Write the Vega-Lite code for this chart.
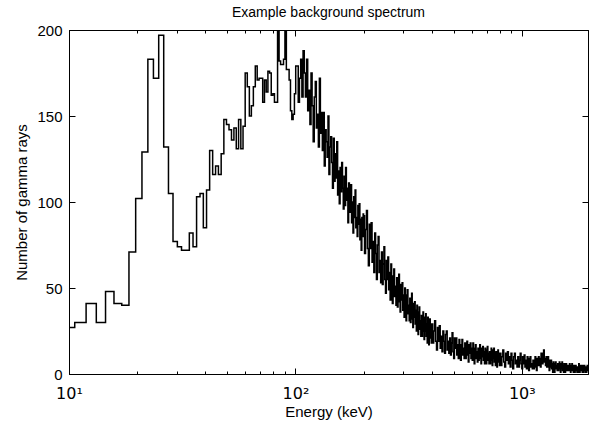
{
"$schema": "https://vega.github.io/schema/vega-lite/v6.json",
"width": 519,
"height": 344,
"autosize": {"type": "none"},
"padding": {"left": 69, "top": 30, "right": 6, "bottom": 52},
"background": "white",
"title": {"text": "Example background spectrum", "font": "Liberation Sans", "fontSize": 14, "fontWeight": "normal", "color": "black", "anchor": "middle", "frame": "group", "baseline": "alphabetic", "offset": -8},
"config": {"view": {"stroke": "black", "strokeWidth": 1}},
"data": {"values": [
{"e":10,"n":27},{"e":10.6,"n":30},{"e":11.9,"n":41},{"e":13.2,"n":30},{"e":14.5,"n":48},{"e":15.8,"n":41},{"e":17.1,"n":40},{"e":18.4,"n":71},{"e":19.7,"n":102},{"e":21.0,"n":129},{"e":22.3,"n":183},{"e":23.6,"n":172},{"e":24.9,"n":197},{"e":26.2,"n":132},{"e":27.5,"n":105},{"e":28.8,"n":77},{"e":30.1,"n":74},{"e":31.4,"n":72},{"e":32.7,"n":72},{"e":34.0,"n":82},{"e":35.3,"n":74},{"e":36.6,"n":103},{"e":37.9,"n":105},{"e":39.2,"n":85},{"e":40.5,"n":107},{"e":41.8,"n":130},{"e":43.1,"n":116},{"e":44.4,"n":121},{"e":45.7,"n":116},{"e":47.0,"n":128},{"e":48.3,"n":148},{"e":49.6,"n":145},{"e":50.9,"n":142},{"e":52.2,"n":136},{"e":53.5,"n":143},{"e":54.8,"n":131},{"e":56.1,"n":148},{"e":57.4,"n":131},{"e":58.7,"n":144},{"e":60.0,"n":175},{"e":61.3,"n":167},{"e":62.6,"n":150},{"e":63.9,"n":156},{"e":65.2,"n":167},{"e":66.5,"n":179},{"e":67.8,"n":171},{"e":69.1,"n":172},{"e":70.4,"n":172},{"e":71.7,"n":158},{"e":73.0,"n":171},{"e":74.3,"n":164},{"e":75.6,"n":176},{"e":76.9,"n":175},{"e":78.2,"n":162},{"e":79.5,"n":163},{"e":80.8,"n":158},{"e":82.1,"n":158},{"e":83.4,"n":210},{"e":84.7,"n":182},{"e":86.0,"n":180},{"e":87.3,"n":180},{"e":88.6,"n":183},{"e":89.9,"n":212},{"e":91.2,"n":177},{"e":92.5,"n":177},{"e":93.8,"n":171},{"e":95.1,"n":153},{"e":96.4,"n":148},{"e":97.7,"n":151},{"e":99.0,"n":163},{"e":100.3,"n":179},
{"e":101.6,"n":179},{"e":102.9,"n":158},{"e":104.2,"n":172},{"e":105.5,"n":183},{"e":106.8,"n":161},{"e":108.1,"n":188},{"e":109.4,"n":175},{"e":110.7,"n":161},{"e":112.0,"n":183},{"e":113.3,"n":153},{"e":114.6,"n":165},{"e":115.9,"n":145},{"e":117.2,"n":175},{"e":118.5,"n":156},{"e":119.8,"n":135},{"e":121.1,"n":161},{"e":122.4,"n":170},{"e":123.7,"n":143},{"e":125.0,"n":151},{"e":126.3,"n":132},{"e":127.6,"n":172},{"e":128.9,"n":140},{"e":130.2,"n":152},{"e":131.5,"n":130},{"e":132.8,"n":152},{"e":134.1,"n":121},{"e":135.4,"n":142},{"e":136.7,"n":135},{"e":138.0,"n":126},{"e":139.3,"n":150},{"e":140.6,"n":116},{"e":141.9,"n":132},{"e":143.2,"n":138},{"e":144.5,"n":123},{"e":145.8,"n":108},{"e":147.1,"n":137},{"e":148.4,"n":112},{"e":149.7,"n":128},{"e":151.0,"n":114},{"e":152.3,"n":135},{"e":153.6,"n":104},{"e":154.9,"n":118},{"e":156.2,"n":99},{"e":157.5,"n":120},{"e":158.8,"n":106},{"e":160.1,"n":123},{"e":161.4,"n":108},{"e":162.7,"n":96},{"e":164.0,"n":115},{"e":165.3,"n":98},{"e":166.6,"n":120},{"e":167.9,"n":101},{"e":169.2,"n":108},{"e":170.5,"n":88},{"e":171.8,"n":111},{"e":173.1,"n":94},{"e":174.4,"n":101},{"e":175.7,"n":110},{"e":177.0,"n":88},{"e":178.3,"n":100},{"e":179.6,"n":82},{"e":180.9,"n":103},{"e":182.2,"n":91},{"e":183.5,"n":107},{"e":184.8,"n":85},{"e":186.1,"n":91},{"e":187.4,"n":80},{"e":188.7,"n":98},{"e":190.0,"n":87},{"e":191.3,"n":99},{"e":192.6,"n":78},{"e":193.9,"n":90},{"e":195.2,"n":72},{"e":196.5,"n":91},{"e":197.8,"n":80},{"e":199.1,"n":93},
{"e":200,"n":92},{"e":202,"n":70},{"e":204,"n":84},{"e":206,"n":95},{"e":208,"n":73},{"e":210,"n":63},{"e":212,"n":87},{"e":214,"n":73},{"e":216,"n":88},{"e":218,"n":65},{"e":220,"n":77},{"e":222,"n":59},{"e":224,"n":82},{"e":226,"n":70},{"e":228,"n":55},{"e":230,"n":75},{"e":232,"n":80},{"e":234,"n":59},{"e":236,"n":66},{"e":238,"n":53},{"e":240,"n":71},{"e":242,"n":52},{"e":244,"n":64},{"e":246,"n":74},{"e":248,"n":55},{"e":250,"n":47},{"e":252,"n":66},{"e":254,"n":55},{"e":256,"n":68},{"e":258,"n":49},{"e":260,"n":59},{"e":262,"n":43},{"e":264,"n":64},{"e":266,"n":53},{"e":268,"n":41},{"e":270,"n":57},{"e":272,"n":61},{"e":274,"n":45},{"e":276,"n":51},{"e":278,"n":40},{"e":280,"n":56},{"e":282,"n":39},{"e":284,"n":50},{"e":286,"n":58},{"e":288,"n":42},{"e":290,"n":36},{"e":292,"n":52},{"e":294,"n":43},{"e":296,"n":53},{"e":298,"n":37},{"e":300,"n":46},{"e":302,"n":33},{"e":304,"n":50},{"e":306,"n":42},{"e":308,"n":31},{"e":310,"n":46},{"e":312,"n":49},{"e":314,"n":35},{"e":316,"n":40},{"e":318,"n":31},{"e":320,"n":44},{"e":322,"n":30},{"e":324,"n":39},{"e":326,"n":47},{"e":328,"n":32},{"e":330,"n":27},{"e":332,"n":41},{"e":334,"n":33},{"e":336,"n":42},{"e":338,"n":29},{"e":340,"n":37},{"e":342,"n":25},{"e":344,"n":40},{"e":346,"n":32},{"e":348,"n":23},{"e":350,"n":36},{"e":352,"n":39},{"e":354,"n":26},{"e":356,"n":31},{"e":358,"n":22},{"e":360,"n":34},{"e":362,"n":22},{"e":364,"n":30},{"e":366,"n":36},{"e":368,"n":25},{"e":370,"n":20},{"e":372,"n":33},{"e":374,"n":25},{"e":376,"n":35},{"e":378,"n":22},{"e":380,"n":29},{"e":382,"n":18},{"e":384,"n":33},{"e":386,"n":25},{"e":388,"n":17},{"e":390,"n":29},{"e":392,"n":32},{"e":394,"n":21},{"e":396,"n":25},{"e":398,"n":18},
{"e":400,"n":29},{"e":404,"n":18},{"e":408,"n":25},{"e":412,"n":31},{"e":416,"n":19},{"e":420,"n":14},{"e":424,"n":27},{"e":428,"n":19},{"e":432,"n":28},{"e":436,"n":15},{"e":440,"n":22},{"e":444,"n":13},{"e":448,"n":25},{"e":452,"n":19},{"e":456,"n":12},{"e":460,"n":23},{"e":464,"n":25},{"e":468,"n":14},{"e":472,"n":19},{"e":476,"n":12},{"e":480,"n":21},{"e":484,"n":11},{"e":488,"n":18},{"e":492,"n":24},{"e":496,"n":13},{"e":500,"n":9},{"e":504,"n":21},{"e":508,"n":15},{"e":512,"n":21},{"e":516,"n":11},{"e":520,"n":17},{"e":524,"n":9},{"e":528,"n":20},{"e":532,"n":15},{"e":536,"n":8},{"e":540,"n":17},{"e":544,"n":20},{"e":548,"n":11},{"e":552,"n":15},{"e":556,"n":9},{"e":560,"n":18},{"e":564,"n":9},{"e":568,"n":15},{"e":572,"n":19},{"e":576,"n":11},{"e":580,"n":7},{"e":584,"n":17},{"e":588,"n":12},{"e":592,"n":18},{"e":596,"n":9},{"e":600,"n":15},{"e":604,"n":8},{"e":608,"n":18},{"e":612,"n":13},{"e":616,"n":6},{"e":620,"n":15},{"e":624,"n":17},{"e":628,"n":9},{"e":632,"n":13},{"e":636,"n":7},{"e":640,"n":15},{"e":644,"n":8},{"e":648,"n":13},{"e":652,"n":17},{"e":656,"n":9},{"e":660,"n":6},{"e":664,"n":15},{"e":668,"n":10},{"e":672,"n":16},{"e":676,"n":8},{"e":680,"n":13},{"e":684,"n":6},{"e":688,"n":15},{"e":692,"n":11},{"e":696,"n":6},{"e":700,"n":14},{"e":704,"n":16},{"e":708,"n":8},{"e":712,"n":12},{"e":716,"n":6},{"e":720,"n":13},{"e":724,"n":6},{"e":728,"n":11},{"e":732,"n":15},{"e":736,"n":8},{"e":740,"n":5},{"e":744,"n":14},{"e":748,"n":9},{"e":752,"n":15},{"e":756,"n":7},{"e":760,"n":12},{"e":764,"n":5},{"e":768,"n":13},{"e":772,"n":9},{"e":776,"n":4},{"e":780,"n":12},{"e":784,"n":14},{"e":788,"n":7},{"e":792,"n":10},{"e":796,"n":5},
{"e":800,"n":12},{"e":808,"n":5},{"e":816,"n":10},{"e":824,"n":14},{"e":832,"n":7},{"e":840,"n":4},{"e":848,"n":12},{"e":856,"n":8},{"e":864,"n":13},{"e":872,"n":6},{"e":880,"n":10},{"e":888,"n":4},{"e":896,"n":12},{"e":904,"n":8},{"e":912,"n":3},{"e":920,"n":10},{"e":928,"n":12},{"e":936,"n":6},{"e":944,"n":8},{"e":952,"n":4},{"e":960,"n":10},{"e":968,"n":4},{"e":976,"n":8},{"e":984,"n":12},{"e":992,"n":6},{"e":1000,"n":3},{"e":1008,"n":10},{"e":1016,"n":6},{"e":1024,"n":11},{"e":1032,"n":4},{"e":1040,"n":8},{"e":1048,"n":3},{"e":1056,"n":10},{"e":1064,"n":7},{"e":1072,"n":2},{"e":1080,"n":9},{"e":1088,"n":10},{"e":1096,"n":4},{"e":1104,"n":6},{"e":1112,"n":3},{"e":1120,"n":8},{"e":1128,"n":3},{"e":1136,"n":7},{"e":1144,"n":10},{"e":1152,"n":4},{"e":1160,"n":2},{"e":1168,"n":9},{"e":1176,"n":5},{"e":1184,"n":10},{"e":1192,"n":5},{"e":1200,"n":9},{"e":1208,"n":4},{"e":1216,"n":12},{"e":1224,"n":9},{"e":1232,"n":6},{"e":1240,"n":12},{"e":1248,"n":14},{"e":1256,"n":7},{"e":1264,"n":9},{"e":1272,"n":5},{"e":1280,"n":10},{"e":1288,"n":4},{"e":1296,"n":7},{"e":1304,"n":10},{"e":1312,"n":4},{"e":1320,"n":2},{"e":1328,"n":8},{"e":1336,"n":4},{"e":1344,"n":8},{"e":1352,"n":3},{"e":1360,"n":6},{"e":1368,"n":1},{"e":1376,"n":7},{"e":1384,"n":4},{"e":1392,"n":1},{"e":1400,"n":6},{"e":1408,"n":7},{"e":1416,"n":3},{"e":1424,"n":5},{"e":1432,"n":2},{"e":1440,"n":6},{"e":1448,"n":2},{"e":1456,"n":5},{"e":1464,"n":7},{"e":1472,"n":3},{"e":1480,"n":1},{"e":1488,"n":6},{"e":1496,"n":3},{"e":1504,"n":7},{"e":1512,"n":2},{"e":1520,"n":5},{"e":1528,"n":1},{"e":1536,"n":6},{"e":1544,"n":4},{"e":1552,"n":1},{"e":1560,"n":5},{"e":1568,"n":6},{"e":1576,"n":2},{"e":1584,"n":4},{"e":1592,"n":2},{"e":1600,"n":5},{"e":1608,"n":2},{"e":1616,"n":4},{"e":1624,"n":6},{"e":1632,"n":3},{"e":1640,"n":1},{"e":1648,"n":5},{"e":1656,"n":3},{"e":1664,"n":6},{"e":1672,"n":2},{"e":1680,"n":4},{"e":1688,"n":1},{"e":1696,"n":5},{"e":1704,"n":3},{"e":1712,"n":1},{"e":1720,"n":4},{"e":1728,"n":5},{"e":1736,"n":2},{"e":1744,"n":3},{"e":1752,"n":1},{"e":1760,"n":4},{"e":1768,"n":1},{"e":1776,"n":3},{"e":1784,"n":6},{"e":1792,"n":2},{"e":1800,"n":1},{"e":1808,"n":5},{"e":1816,"n":3},{"e":1824,"n":5},{"e":1832,"n":2},{"e":1840,"n":4},{"e":1848,"n":1},{"e":1856,"n":5},{"e":1864,"n":3},{"e":1872,"n":1},{"e":1880,"n":4},{"e":1888,"n":5},{"e":1896,"n":2},{"e":1904,"n":3},{"e":1912,"n":1},{"e":1920,"n":4},{"e":1928,"n":1},{"e":1936,"n":3},{"e":1944,"n":5},{"e":1952,"n":2},{"e":1960,"n":2}
]},
"layer": [
{
"mark": {"type": "line", "interpolate": "step-after", "color": "black", "strokeWidth": 1.5, "clip": true},
"encoding": {
"x": {"field": "e", "type": "quantitative", "scale": {"type": "log", "domain": [10, 1960], "nice": false},
"axis": {"orient": "bottom", "values": [10,20,30,40,50,60,70,80,90,100,200,300,400,500,600,700,800,900,1000],
"labelExpr": "datum.value == 10 ? '10¹' : datum.value == 100 ? '10²' : datum.value == 1000 ? '10³' : ''",
"tickSize": {"condition": {"test": "datum.value == 10 || datum.value == 100 || datum.value == 1000", "value": -6}, "value": -3},
"tickColor": "black", "tickWidth": 1, "domainColor": "black", "grid": false,
"labelFont": "DejaVu Sans", "labelFontSize": 16, "labelColor": "black", "labelPadding": 17, "labelFlush": false, "labelOverlap": false, "labelBound": false,
"title": "Energy (keV)", "titleFont": "Liberation Sans", "titleFontSize": 15, "titleFontWeight": "normal", "titleColor": "black", "titlePadding": 0}},
"y": {"field": "n", "type": "quantitative", "scale": {"domain": [0, 200], "nice": false},
"axis": {"orient": "left", "values": [0,50,100,150,200], "tickSize": -6, "tickColor": "black", "domainColor": "black", "grid": false,
"labelFont": "Liberation Sans", "labelFontSize": 15, "labelColor": "black", "labelPadding": 13, "labelOverlap": false, "labelBound": false,
"title": "Number of gamma rays", "titleFont": "Liberation Sans", "titleFontSize": 15, "titleFontWeight": "normal", "titleColor": "black", "titlePadding": 7}}
}
},
{
"mark": {"type": "line", "opacity": 0, "clip": true},
"encoding": {
"x": {"field": "e", "type": "quantitative",
"axis": {"orient": "top", "values": [10,20,30,40,50,60,70,80,90,100,200,300,400,500,600,700,800,900,1000], "labels": false, "title": null,
"tickSize": {"condition": {"test": "datum.value == 10 || datum.value == 100 || datum.value == 1000", "value": -6}, "value": -3},
"tickColor": "black", "domainColor": "black", "grid": false}},
"y": {"field": "n", "type": "quantitative",
"axis": {"orient": "right", "values": [0,50,100,150,200], "labels": false, "title": null, "tickSize": -6, "tickColor": "black", "domainColor": "black", "grid": false}}
}
}
],
"resolve": {"axis": {"x": "independent", "y": "independent"}}
}
